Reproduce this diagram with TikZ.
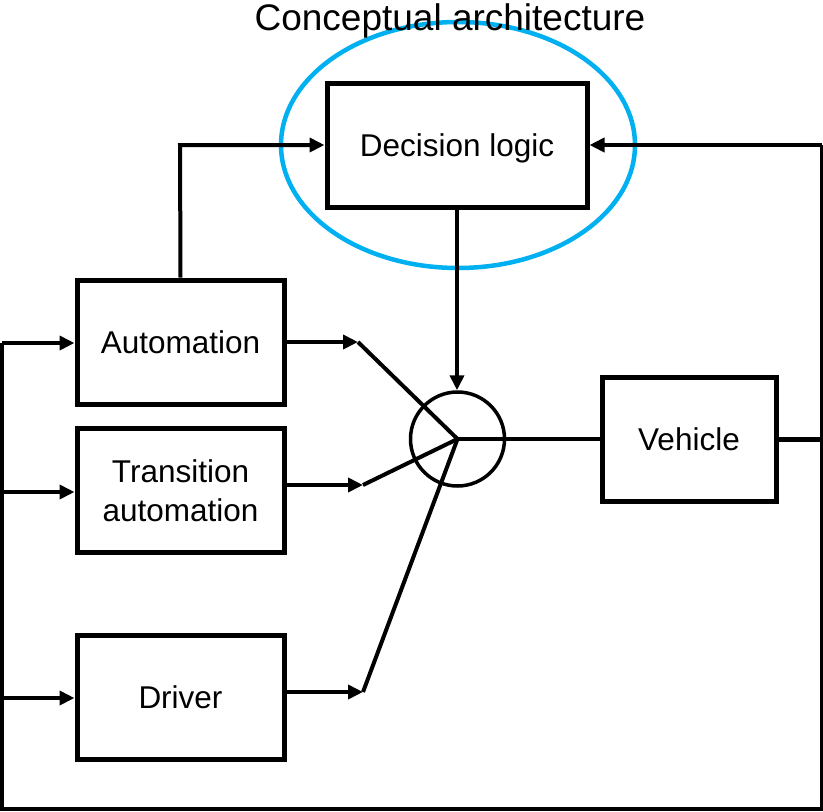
\documentclass[tikz,border=0pt]{standalone}
\usepackage{fontspec}
\setmainfont{Liberation Sans}
\usetikzlibrary{arrows.meta,shapes.geometric}
\definecolor{ringblue}{HTML}{00B0F0}
\begin{document}
\begin{tikzpicture}[x=1pt,y=-1pt,
  block/.style={draw, line width=5pt, minimum width=207pt, minimum height=124pt,
    inner sep=0pt, align=center, font=\fontsize{31.5}{39}\selectfont},
  wire/.style={line width=4pt},
  arr/.style={wire, -{Triangle[length=15pt,width=14pt]}},
  ring/.style={ellipse, draw=ringblue, line width=4.5pt, minimum width=354pt,
    minimum height=246pt, inner sep=0pt}]
\useasboundingbox (0,0) rectangle (823,812);

% blocks
\node[block, minimum width=260pt] (dec) at (457,145) {\raisebox{0pt}[\height][0pt]{Decision logic}};
\node[block] (aut) at (180.5,342) {Automation};
\node[block] (tra) at (180.5,490.5) {Transition\\automation};
\node[block] (drv) at (180.5,697) {Driver};
\node[block, minimum width=174pt] (veh) at (689,439) {Vehicle};
\node[circle, draw, line width=3.5pt, minimum size=94pt, inner sep=0pt] (sum) at (457.5,439) {};

% highlight and title
\node[ring] (focus) at (458,145) {};
\node[anchor=base, font=\fontsize{37}{44}\selectfont, inner sep=0pt] (title) at (450,30) {Conceptual architecture};

% switch contacts
\coordinate (ca) at (358,342);
\coordinate (ct) at (363,485);
\coordinate (cd) at (363,692);

% feedback loop corners
\coordinate (tr) at (822,145);
\coordinate (br) at (822,808.5);
\coordinate (bl) at (2,808.5);
\coordinate (la) at (2,343);
\coordinate (lt) at (2,492);
\coordinate (ld) at (2,698);
\coordinate (ak) at (180,145);

% block outputs to the switch
\draw[arr] (aut.east |- ca) -- (ca);
\draw[arr] (tra.east |- ct) -- (ct);
\draw[arr] (drv.east |- cd) -- (cd);
\draw[wire] (ca) -- (sum.center);
\draw[wire] (ct) -- (sum.center);
\draw[wire] (cd) -- (sum.center);

% switch to vehicle
\draw[wire] (sum.center) -- (veh.west);

% decision logic drives the switch
\draw[arr] (dec.south) -- (dec.south |- sum.north);

% automation informs decision logic
\draw[arr] (aut.north) -- (ak) -- (dec.west);

% vehicle feedback
\draw[line width=5pt] (veh.east) -- (veh.east -| br);
\draw[arr] (tr) -- (dec.east);
\draw[wire, line join=miter] (tr) -- (br) -- (bl) -- (la);
\draw[arr] (la) -- (aut.west |- la);
\draw[arr] (lt) -- (tra.west |- lt);
\draw[arr] (ld) -- (drv.west |- ld);
\end{tikzpicture}
\end{document}
